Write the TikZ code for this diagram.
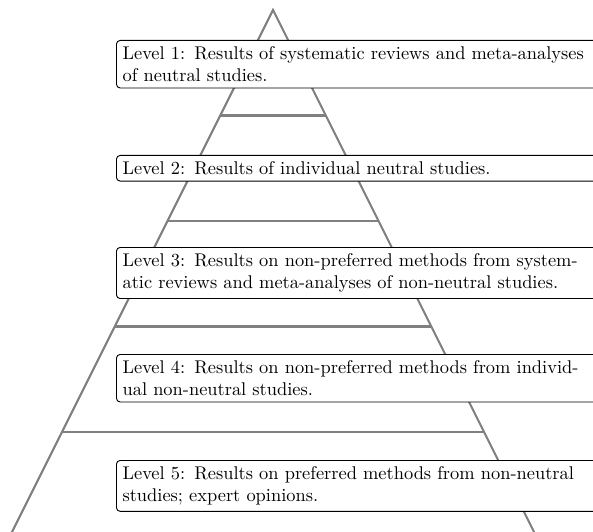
\documentclass[tikz,border=0pt]{standalone}
\begin{document}
\begin{tikzpicture}[x=0.5435pt,y=-0.5435pt,
  pyr/.style={draw=gray, line width=1.1pt},
  lvl/.style={draw=black, fill=white, rounded corners=2pt, line width=0.5pt,
    anchor=north west, inner sep=3.33pt, text width=290pt, align=left}]
\useasboundingbox (0,0) rectangle (593,532);
\clip (0,0) rectangle (593,532);
% pyramid
\coordinate (apex) at (273,10);
\coordinate (bl) at (-1,558);
\coordinate (br) at (547,558);
\draw[pyr] (bl) -- (apex) -- (br);
\foreach \yy in {115.5,221,326.5,432}{
  \draw[pyr] ({273-0.5*(\yy-10)},\yy) -- ({273+0.5*(\yy-10)},\yy);
}
% level boxes
\node[lvl] (l1) at (116,40) {\parbox{251pt}{Level 1: Results of systematic reviews and meta-analyses\linebreak of neutral studies.}};
\node[lvl] (l2) at (116,155) {\parbox{251pt}{Level 2: Results of individual neutral studies.}};
\node[lvl] (l3) at (116,247) {\parbox{251pt}{Level 3: Results on non-preferred methods from system-\linebreak atic reviews and meta-analyses of non-neutral studies.}};
\node[lvl] (l4) at (116,354) {\parbox{251pt}{Level 4: Results on non-preferred methods from individ-\linebreak ual non-neutral studies.}};
\node[lvl] (l5) at (116,460) {\parbox{251pt}{Level 5: Results on preferred methods from non-neutral\linebreak studies; expert opinions.}};
\end{tikzpicture}
\end{document}
